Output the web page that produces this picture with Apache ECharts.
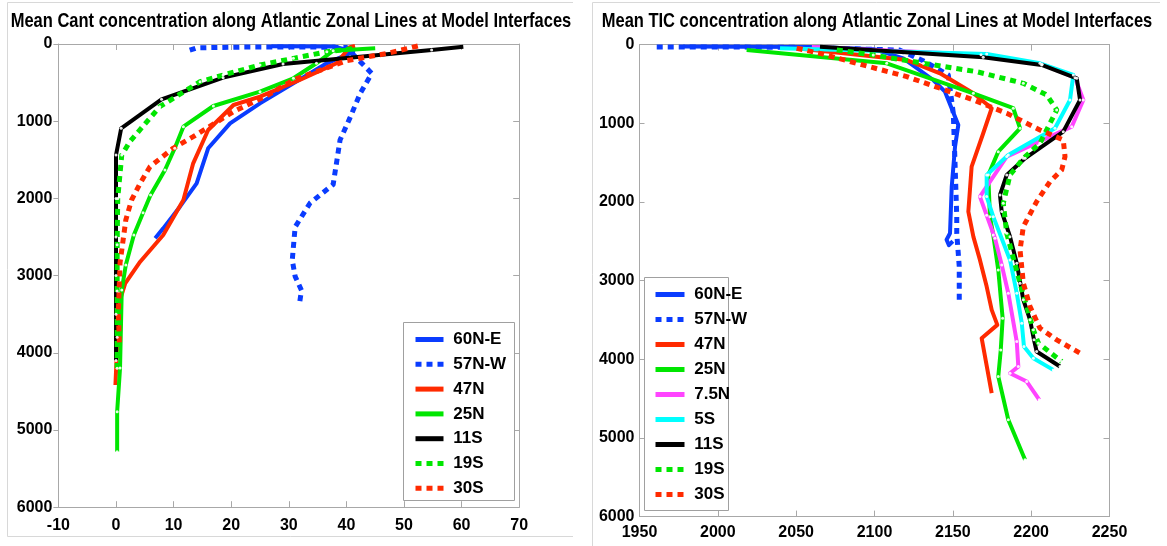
<!DOCTYPE html>
<html><head><meta charset="utf-8">
<script src="https://cdn.jsdelivr.net/npm/echarts@6/dist/echarts.min.js"></script>
<style>html,body{margin:0;padding:0;background:#fff}#c{width:1167px;height:546px}</style>
</head><body><div id="c"></div>
<script>
// ---------- data: [concentration, depth] ----------
const leftTitle = 'Mean Cant concentration along Atlantic Zonal Lines at Model Interfaces';
const rightTitle = 'Mean TIC concentration along Atlantic Zonal Lines at Model Interfaces';
const leftXTicks = [-10, 70, 10];
const rightXTicks = [1950, 2250, 50];
const depthTicks = [0, 6000, 1000];

const cant60NE = [[27,30],[38,34],[41.2,100],[36.6,250],[30.8,509],[25,768],[19.8,1028],[16,1351],[14,1805],[11.1,2107],[8.2,2388],[6.8,2517]];
const cant57NW = [[12.8,80],[14,50],[22,40],[32,38],[40,45],[42.4,229],[44.4,380],[42.4,639],[40.6,960],[38.9,1243],[37.7,1820],[33.7,2060],[31.1,2370],[30.6,2800],[31.1,3010],[32.2,3190],[31.9,3340]];
const cant47N = [[41.5,25],[40.6,40],[38.3,250],[31.9,466],[25,682],[20.4,790],[16,1114],[13.4,1546],[11.7,2020],[8.2,2474],[4.2,2820],[1.6,3100],[0.7,3316],[0.3,3748],[-0.1,4417]];
const cant25N = [[45,56],[37.7,87],[34.8,250],[30.8,444],[25,618],[16.9,803],[11.7,1071],[10.2,1351],[8.5,1632],[6,1956],[4.7,2185],[3.1,2474],[1.7,2863],[1,3187],[0.7,4197],[0.2,4763],[0.2,5281]];
const cant11S = [[60.3,35],[54.8,78],[29,260],[18.6,436],[7.9,716],[0.9,1092],[0,1438],[0,2000],[0,2500],[0,3000],[0,3500],[0,4100]];
const cant19S = [[41,60],[36.6,100],[30.8,186],[25,272],[18.6,402],[14.6,488],[7.6,812],[2.4,1265],[1,1438],[0.3,2000],[0.2,2600],[0.2,3200],[0.2,3800],[0.2,4200]];
const cant30S = [[52.4,26],[47.2,120],[40,216],[30.8,466],[26.2,669],[20.4,876],[13.4,1200],[9.9,1351],[5.9,1589],[4.2,1805],[2.7,2021],[1.7,2280],[0.7,2837],[0.4,3487],[0.6,3920]];

const tic60NE = [[1978,25],[2060,30],[2100,60],[2118.4,174],[2137.5,450],[2145,598],[2153.5,1021],[2151.4,1297],[2149.3,1805],[2148.2,2398],[2146,2480],[2147.5,2550],[2150,2500]];
const tic57NW = [[1961,30],[2000,30],[2050,35],[2116,69],[2132.2,217],[2147.1,386],[2150.3,873],[2151.4,1509],[2152.5,2187],[2152.5,2398],[2154.1,2822],[2154.1,3245]];
const tic47N = [[2050.3,47],[2120.6,196],[2141.8,365],[2163.1,619],[2174.8,809],[2169.4,1127],[2162,1551],[2159.9,2123],[2163.1,2441],[2167.3,2737],[2171.6,3076],[2174.8,3372],[2178.4,3563],[2168.4,3732],[2174.8,4431]];
const tic25N = [[2018.4,69],[2107.8,238],[2163.1,619],[2188.6,809],[2192.9,1064],[2179,1361],[2172.6,1657],[2173.7,2187],[2175.8,2419],[2179,2864],[2181.8,3478],[2180.6,3881],[2179,4220],[2185.4,4770],[2196.1,5278]];
const tic7_5N = [[2060,30],[2168,130],[2207,250],[2228,420],[2233.3,704],[2225.9,1043],[2184.4,1424],[2167.3,1932],[2171.6,2170],[2176.9,2462],[2181.2,2801],[2185.4,3160],[2190.8,3775],[2191.8,4093],[2186.5,4177],[2197.2,4283],[2205.2,4516]];
const tic5S = [[2039.7,47],[2171.6,119],[2205.6,238],[2226.9,386],[2224.8,704],[2215.2,1064],[2185.4,1403],[2171.6,1657],[2171.6,1932],[2175.8,2187],[2186.5,2737],[2190.8,3160],[2194,3541],[2195.4,3838],[2201.4,3986],[2214.1,4135]];
const tic11S = [[2065.2,27],[2169.4,161],[2206.7,259],[2229.1,429],[2231.2,704],[2220.5,1107],[2196.1,1445],[2184.4,1657],[2180.1,1911],[2181.2,2123],[2186.5,2441],[2190.8,2779],[2195,3245],[2199.3,3499],[2201.8,3753],[2203.5,3902],[2218.4,4092]];
const tic19S = [[2075.9,69],[2099.2,132],[2131.2,238],[2165.2,344],[2195,492],[2209.9,640],[2216.3,831],[2205.6,1254],[2195,1445],[2186.5,1657],[2182.2,2017],[2184.4,2398],[2192.9,3033],[2201.4,3626],[2204.6,3795],[2219.5,4029]];
const tic30S = [[2050.3,47],[2065.2,111],[2088.6,238],[2120.6,407],[2141.8,555],[2163.1,704],[2184.4,873],[2205.6,1085],[2220.5,1212],[2221.6,1424],[2219.5,1593],[2212,1742],[2203.5,1996],[2195,2314],[2192.9,2610],[2195,3033],[2199.3,3330],[2205.6,3605],[2216.3,3753],[2231.2,3923]];

const leftNames = ['60N-E','57N-W','47N','25N','11S','19S','30S'];
const rightNames = ['60N-E','57N-W','47N','25N','7.5N','5S','11S','19S','30S'];

// ---------- styling ----------
const FONT = "'Liberation Sans',Arial,sans-serif";
const BLUE = '#0a3cff', RED = '#ff2a00', GREEN = '#00e600', BLACK = '#000000', MAGENTA = '#ff44ff', CYAN = '#00ffff';
const AX = '#a8a8a8';
const styles = {
  '60N-E': {color: BLUE, dash: false},
  '57N-W': {color: BLUE, dash: true},
  '47N': {color: RED, dash: false},
  '25N': {color: GREEN, dash: false, mk: true},
  '7.5N': {color: MAGENTA, dash: false, mk: true},
  '5S': {color: CYAN, dash: false, mk: true},
  '11S': {color: BLACK, dash: false, mk: true},
  '19S': {color: GREEN, dash: true, mk: true},
  '30S': {color: RED, dash: true}
};
const leftData = [cant60NE, cant57NW, cant47N, cant25N, cant11S, cant19S, cant30S];
const rightData = [tic60NE, tic57NW, tic47N, tic25N, tic7_5N, tic5S, tic11S, tic19S, tic30S];

function mkSeries(names, datas, gi) {
  const out = [];
  names.forEach((n, i) => {
    const s = styles[n];
    out.push({
      type: 'line', name: n, xAxisIndex: gi * 2, yAxisIndex: gi * 2,
      data: datas[i], symbol: 'none', showSymbol: false, animation: false,
      z: 2 + i * 0.01,
      itemStyle: {color: s.color},
      lineStyle: {color: s.color, width: s.dash ? 5 : 4, type: s.dash ? [6, 5] : 'solid', cap: 'butt', join: 'round'}
    });
  });
  names.forEach((n, i) => {
    if (!styles[n].mk) return;
    out.push({
      type: 'scatter', xAxisIndex: gi * 2, yAxisIndex: gi * 2, data: datas[i].slice(1),
      symbol: 'circle', symbolSize: 3, silent: true, animation: false, z: 3,
      itemStyle: {color: '#ffffff', opacity: 0.9}
    });
  });
  return out;
}

const lbl = {color: '#000', fontWeight: 'bold', fontSize: 16, fontFamily: FONT, formatter: v => String(v)};
function xAxes(gi, t) {
  const base = {gridIndex: gi, type: 'value', min: t[0], max: t[1], interval: t[2],
    splitLine: {show: false}, axisLine: {onZero: false, lineStyle: {color: AX, width: 1}},
    axisTick: {inside: true, length: 6, lineStyle: {color: AX}}};
  return [
    Object.assign({}, base, {position: 'bottom', axisLabel: Object.assign({}, lbl, {margin: gi === 0 ? 10 : 8})}),
    Object.assign({}, base, {position: 'top', axisLabel: {show: false}})
  ];
}
function yAxes(gi, t, outsideLeft) {
  const base = {gridIndex: gi, type: 'value', min: t[0], max: t[1], interval: t[2], inverse: true,
    splitLine: {show: false}, axisLine: {onZero: false, lineStyle: {color: AX, width: 1}},
    axisTick: {inside: true, length: 6, lineStyle: {color: AX}}};
  return [
    Object.assign({}, base, {position: 'left',
      axisTick: {inside: !outsideLeft, length: 5, lineStyle: {color: AX}},
      axisLabel: Object.assign({}, lbl, {margin: outsideLeft ? 6 : 5})}),
    Object.assign({}, base, {position: 'right', axisLabel: {show: false}})
  ];
}

const legendCommon = {orient: 'vertical', itemWidth: 28, itemHeight: 12, backgroundColor: 'transparent', borderWidth: 0,
  textStyle: {color: '#000', fontWeight: 'bold', fontSize: 17, fontFamily: FONT},
  itemStyle: {opacity: 0}, lineStyle: {width: 5},
  formatter: n => ' ' + n, selectedMode: false};

function title(txt, cx) {
  return {type: 'text', x: cx, y: 21, scaleX: 0.785, z: 5, silent: true,
    style: {text: txt, x: 0, y: 0, font: 'bold 21px ' + FONT, fill: '#000', textAlign: 'center', textVerticalAlign: 'middle', align: 'center', verticalAlign: 'middle'}};
}

const option = {
  animation: false,
  backgroundColor: '#ffffff',
  grid: [
    {left: 58.4, top: 44, width: 460.8, height: 463.2},
    {left: 639.5, top: 44.6, width: 470, height: 472}
  ],
  xAxis: [...xAxes(0, leftXTicks), ...xAxes(1, rightXTicks)],
  yAxis: [...yAxes(0, depthTicks, true), ...yAxes(1, depthTicks, false)],
  legend: [
    Object.assign({}, legendCommon, {data: leftNames, left: 403, top: 322, padding: [9, 8, 4, 10], itemGap: 7.8}),
    Object.assign({}, legendCommon, {data: rightNames, left: 644, top: 277, padding: [9, 8, 7, 9], itemGap: 8, itemWidth: 29})
  ],
  graphic: [
    {type: 'line', shape: {x1: 7.5, y1: 2.5, x2: 573, y2: 2.5}, style: {stroke: '#d8d8d8', lineWidth: 1}, silent: true},
    {type: 'line', shape: {x1: 7.5, y1: 2.5, x2: 7.5, y2: 536.5}, style: {stroke: '#d8d8d8', lineWidth: 1}, silent: true},
    {type: 'line', shape: {x1: 7.5, y1: 536.5, x2: 573, y2: 536.5}, style: {stroke: '#d8d8d8', lineWidth: 1}, silent: true},
    {type: 'line', shape: {x1: 592.5, y1: 2.5, x2: 1160, y2: 2.5}, style: {stroke: '#d8d8d8', lineWidth: 1}, silent: true},
    {type: 'line', shape: {x1: 592.5, y1: 2.5, x2: 592.5, y2: 546}, style: {stroke: '#d8d8d8', lineWidth: 1}, silent: true},
    {type: 'rect', shape: {x: 403.5, y: 322.5, width: 111, height: 178}, style: {fill: '#fff', stroke: '#a0a0a0', lineWidth: 1}, z: 3, silent: true},
    {type: 'rect', shape: {x: 644.5, y: 277.5, width: 84, height: 233}, style: {fill: '#fff', stroke: '#a0a0a0', lineWidth: 1}, z: 3, silent: true},
    title(leftTitle, 291),
    title(rightTitle, 877)
  ],
  series: [...mkSeries(leftNames, leftData, 0), ...mkSeries(rightNames, rightData, 1)]
};

const chart = echarts.init(document.getElementById('c'), null, {renderer: 'canvas'});
chart.setOption(option);
</script>
</body></html>
